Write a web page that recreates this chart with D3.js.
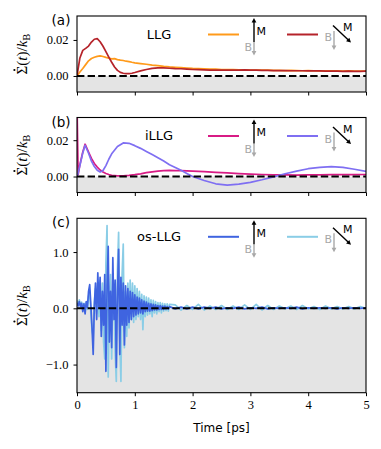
<!DOCTYPE html>
<meta charset="utf-8">
<style>
body { margin: 0; background: #fff; }
svg { display: block; }
.tick text { font-family: "Liberation Serif", serif; font-size: 12.5px; fill: #000; }
.tick line, .domain { stroke: #000; }
.sans { font-family: "DejaVu Sans", sans-serif; }
</style>
<svg width="381" height="449"></svg>
<script src="https://d3js.org/d3.v7.min.js"></script>
<script>

// panel (a): LLG
var timeA = [0, 0.05, 0.1, 0.15, 0.2, 0.25, 0.3, 0.35, 0.4, 0.45, 0.5, 0.55, 0.6, 0.65, 0.7, 0.75, 0.8, 0.85, 0.9, 0.95, 1.0,
  1.1, 1.2, 1.3, 1.4, 1.5, 1.6, 1.7, 1.8, 1.9, 2.0, 2.1, 2.2, 2.3, 2.4, 2.5, 2.6, 2.7, 2.8, 2.9, 3.0,
  3.1, 3.2, 3.3, 3.4, 3.5, 3.6, 3.7, 3.8, 3.9, 4.0, 4.1, 4.2, 4.3, 4.4, 4.5, 4.6, 4.7, 4.8, 4.9, 5.0];
var llgUp = [0.0, 0.0022, 0.0042, 0.0063, 0.0084, 0.0097, 0.0104, 0.0109, 0.0112, 0.0108, 0.0103, 0.0099, 0.0095, 0.0096, 0.0091, 0.0088, 0.0086, 0.0082, 0.0080, 0.0076, 0.0073,
  0.0069, 0.0065, 0.0060, 0.0057, 0.0053, 0.0050, 0.0048, 0.0046, 0.0044, 0.0042, 0.0041, 0.0040, 0.0038, 0.0038, 0.0036, 0.0036, 0.0035, 0.0034, 0.0034, 0.0033,
  0.0033, 0.0032, 0.0032, 0.0031, 0.0031, 0.0030, 0.0031, 0.0030, 0.0029, 0.0030, 0.0029, 0.0028, 0.0029, 0.0028, 0.0028, 0.0027, 0.0028, 0.0027, 0.0027, 0.0027];
var llgTilt = [0.0, 0.0100, 0.0142, 0.0153, 0.0166, 0.0188, 0.0204, 0.0207, 0.0190, 0.0165, 0.0135, 0.0105, 0.0076, 0.0050, 0.0031, 0.0020, 0.0015, 0.0013, 0.0013, 0.0015, 0.0019,
  0.0028, 0.0036, 0.0042, 0.0045, 0.0045, 0.0043, 0.0041, 0.0040, 0.0038, 0.0036, 0.0035, 0.0034, 0.0033, 0.0033, 0.0032, 0.0033, 0.0032, 0.0033, 0.0034, 0.0033,
  0.0032, 0.0031, 0.0031, 0.0030, 0.0030, 0.0030, 0.0029, 0.0029, 0.0029, 0.0028, 0.0028, 0.0028, 0.0027, 0.0027, 0.0027, 0.0026, 0.0027, 0.0026, 0.0026, 0.0027];

// panel (b): iLLG
var timeB = [0, 0.02, 0.05, 0.1, 0.14, 0.2, 0.25, 0.3, 0.35, 0.4, 0.45, 0.5, 0.55, 0.6, 0.7, 0.8, 0.9, 1.0,
  1.1, 1.2, 1.3, 1.4, 1.5, 1.6, 1.7, 1.8, 1.9, 2.0, 2.2, 2.4, 2.6, 2.8, 3.0, 3.2, 3.4, 3.6, 3.8, 4.0, 4.2, 4.4, 4.6, 4.8, 5.0];
var illgUp = [0.040, 0.001, 0.0065, 0.0135, 0.0178, 0.0135, 0.0100, 0.0072, 0.0052, 0.0036, 0.0025, 0.0017, 0.0011, 0.0007, 0.0004, 0.0004, 0.0006, 0.0010,
  0.0015, 0.0021, 0.0026, 0.0030, 0.0032, 0.0034, 0.0033, 0.0032, 0.0031, 0.0030, 0.0027, 0.0023, 0.0020, 0.0016, 0.0013, 0.0011, 0.0009, 0.0009, 0.0008, 0.0009, 0.0009, 0.0010, 0.0010, 0.0010, 0.0011];
var illgTilt = [0.0, 0.002, 0.006, 0.013, 0.0172, 0.0128, 0.0085, 0.0055, 0.0035, 0.0025, 0.0033, 0.0060, 0.0095, 0.0125, 0.0165, 0.0185, 0.0183, 0.0170,
  0.0155, 0.0138, 0.0121, 0.0103, 0.0085, 0.0065, 0.0050, 0.0034, 0.0017, 0.0000, -0.0022, -0.0040, -0.0047, -0.0042, -0.0032, -0.0018, -0.0002, 0.0015, 0.0030, 0.0043, 0.0050, 0.0055, 0.0050, 0.0040, 0.0028];

// panel (c): os-LLG
var timeC = [0, 0.02, 0.04, 0.06, 0.08, 0.1, 0.12, 0.14, 0.16, 0.18,
  0.2, 0.22, 0.24, 0.26, 0.28, 0.3, 0.32, 0.34, 0.36, 0.38,
  0.4, 0.42, 0.44, 0.46, 0.48, 0.5, 0.52, 0.54, 0.56, 0.58,
  0.6, 0.62, 0.64, 0.66, 0.68, 0.7, 0.72, 0.74, 0.76, 0.78,
  0.8, 0.82, 0.84, 0.86, 0.88, 0.9, 0.92, 0.94, 0.96, 0.98,
  1.0, 1.02, 1.04, 1.06, 1.08, 1.1, 1.12, 1.14, 1.16, 1.18,
  1.2, 1.22, 1.24, 1.26, 1.28, 1.3, 1.32, 1.34, 1.36, 1.38,
  1.4, 1.42, 1.44, 1.46, 1.48, 1.5, 1.52, 1.54, 1.56, 1.58, 1.6,
  1.7, 1.8, 1.9, 2.0, 2.1, 2.2, 2.3, 2.4, 2.5, 2.6,
  2.7, 2.8, 2.9, 3.0, 3.1, 3.2, 3.3, 3.4, 3.5, 3.6,
  3.7, 3.8, 3.9, 4.0, 4.1, 4.2, 4.3, 4.4, 4.5, 4.6,
  4.7, 4.8, 4.9, 5.0];
var osUp = [0.10, 0.04, 0.12, 0.03, 0.09, -0.06, 0.08, -0.10, 0.12, 0.02,
  0.30, 0.42, 0.05, -0.35, -0.82, 0.05, 0.45, -0.20, 0.63, 0.00,
  0.55, -0.50, 0.30, -0.30, 0.60, -1.12, 0.40, 1.10, -0.60, 0.30,
  -0.70, 0.90, -0.20, 0.50, -1.05, 0.30, 1.05, -0.82, 0.55, -0.30,
  0.45, -0.65, 0.40, -0.30, 0.35, -0.25, 0.30, -0.20, 0.28, -0.15,
  0.24, -0.12, 0.20, -0.10, 0.18, -0.08, 0.15, -0.10, 0.13, -0.06,
  0.11, -0.05, 0.09, -0.05, 0.08, -0.04, 0.07, -0.03, 0.06, -0.03,
  0.05, -0.02, 0.05, -0.02, 0.04, -0.02, 0.04, -0.01, 0.03, -0.01, 0.03,
  -0.01, 0.02, -0.01, 0.02, -0.01, 0.02, 0.00, 0.02, -0.01, 0.01,
  0.00, 0.02, -0.01, 0.01, 0.00, 0.02, -0.01, 0.01, 0.00, 0.01,
  0.00, 0.02, -0.01, 0.01, 0.00, 0.01, 0.00, 0.01, -0.01, 0.01,
  0.00, 0.01, 0.00, 0.01];
var osTilt = [0.14, 0.06, 0.15, 0.04, 0.11, 0.00, 0.09, -0.04, 0.10, -0.02,
  0.22, 0.30, -0.10, -0.40, -0.50, 0.10, 0.35, -0.10, 0.45, -0.15,
  0.50, -0.40, 0.45, -0.60, -0.90, 0.80, 1.47, -1.22, 0.20, 0.60,
  -0.90, 0.50, 0.20, -0.80, -1.30, 0.70, 1.35, -0.60, -1.30, 0.60,
  1.14, -0.70, 0.30, -0.50, 0.45, -0.35, 0.50, -0.20, 0.45, -0.25,
  0.40, -0.20, 0.35, -0.15, 0.30, -0.20, 0.25, -0.38, 0.22, -0.15,
  0.20, -0.12, 0.18, -0.10, 0.15, -0.15, 0.14, -0.08, 0.12, -0.10,
  0.10, -0.06, 0.10, -0.08, 0.09, -0.05, 0.08, -0.04, 0.08, -0.05, 0.07,
  0.06, -0.03, 0.05, -0.02, 0.07, -0.03, 0.04, -0.02, 0.05, -0.02,
  0.04, -0.02, 0.06, -0.02, 0.07, -0.03, 0.05, -0.02, 0.04, -0.01,
  0.04, -0.02, 0.05, -0.01, 0.03, -0.02, 0.04, -0.01, 0.03, -0.01,
  0.03, -0.01, 0.03, 0.00];

var xTicks = [0, 1, 2, 3, 4, 5];
var yTicksSmall = [0, 0.02];
var yTicksBig = [-1.0, 0.0, 1.0];

var svg = d3.select("svg"),
    left = 77, right = 366;

var x = d3.scaleLinear().domain([0, 5]).range([left, right]);

var panels = [
  {tag: "(a)", name: "LLG", top: 16, bottom: 92, domain: [-0.0089, 0.0333], ticks: yTicksSmall, fmt: d3.format(".2f"),
   time: timeA, series: [{v: llgUp, c: "#ff9a1a"}, {v: llgTilt, c: "#b5232a"}], order: [0, 1]},
  {tag: "(b)", name: "iLLG", top: 117.5, bottom: 192.5, domain: [-0.0088, 0.0325], ticks: yTicksSmall, fmt: d3.format(".2f"),
   time: timeB, series: [{v: illgUp, c: "#d81b85"}, {v: illgTilt, c: "#7f6ff2"}], order: [0, 1]},
  {tag: "(c)", name: "os-LLG", top: 218.3, bottom: 392.7, domain: [-1.5, 1.6], ticks: yTicksBig, fmt: d3.format(".1f"),
   time: timeC, series: [{v: osUp, c: "#3f64e0"}, {v: osTilt, c: "#8acde6"}], order: [1, 0]}
];

var grey = "#a8a8a8";

function arrow(g, x1, y1, x2, y2, color) {
  var a = Math.atan2(y2 - y1, x2 - x1), h = 4.5, w = 2.4;
  g.append("line").attr("x1", x1).attr("y1", y1)
      .attr("x2", x2 - Math.cos(a) * h * 0.8).attr("y2", y2 - Math.sin(a) * h * 0.8)
      .attr("stroke", color).attr("stroke-width", 1.4);
  var bx = x2 - Math.cos(a) * h, by = y2 - Math.sin(a) * h;
  g.append("path")
      .attr("d", "M" + x2 + "," + y2 +
        "L" + (bx - Math.sin(a) * w) + "," + (by + Math.cos(a) * w) +
        "L" + (bx + Math.sin(a) * w) + "," + (by - Math.cos(a) * w) + "Z")
      .attr("fill", color);
}

panels.forEach(function(p, i) {
  var y = d3.scaleLinear().domain(p.domain).range([p.bottom, p.top]);
  var g = svg.append("g");

  g.append("clipPath").attr("id", "clip" + i)
    .append("rect").attr("x", left).attr("y", p.top)
      .attr("width", right - left).attr("height", p.bottom - p.top);

  // shaded negative region
  g.append("rect")
      .attr("x", left).attr("y", y(0))
      .attr("width", right - left).attr("height", p.bottom - y(0))
      .attr("fill", "#e4e4e4");

  var line = d3.line()
      .x(function(d, j) { return x(p.time[j]); })
      .y(function(d) { return y(d); });

  var lines = g.append("g").attr("clip-path", "url(#clip" + i + ")");
  p.order.forEach(function(k) {
    lines.append("path")
        .attr("d", line(p.series[k].v))
        .attr("fill", "none")
        .attr("stroke", p.series[k].c)
        .attr("stroke-width", 1.7)
        .attr("stroke-linejoin", "round");
  });

  g.append("line")
      .attr("x1", left).attr("x2", right)
      .attr("y1", y(0)).attr("y2", y(0))
      .attr("stroke", "#000").attr("stroke-width", 2)
      .attr("stroke-dasharray", "7.4,3.2");

  // frame
  g.append("rect")
      .attr("x", left).attr("y", p.top)
      .attr("width", right - left).attr("height", p.bottom - p.top)
      .attr("fill", "none").attr("stroke", "#000").attr("stroke-width", 1.1);

  var yAxis = g.append("g")
      .attr("transform", "translate(" + left + ",0)")
      .call(d3.axisLeft(y).tickValues(p.ticks).tickFormat(p.fmt).tickSize(3.5).tickPadding(5));
  yAxis.select(".domain").remove();

  var xAxis = g.append("g")
      .attr("transform", "translate(0," + p.bottom + ")")
      .call(d3.axisBottom(x).tickValues(xTicks).tickSize(3.5).tickPadding(4)
        .tickFormat(i === 2 ? d3.format("d") : function() { return ""; }));
  xAxis.select(".domain").remove();

  g.append("text").attr("class", "sans")
      .attr("x", 61).attr("y", p.top + 9)
      .attr("text-anchor", "middle")
      .attr("font-size", 13.5)
      .text(p.tag);

  // y label, with a dot drawn over the sigma
  var cy = (p.top + p.bottom) / 2;
  var lg0 = g.append("g").attr("transform", "translate(27," + cy + ") rotate(-90)");
  var lab = lg0.append("text")
      .attr("text-anchor", "middle")
      .attr("font-family", "Liberation Serif, serif")
      .attr("font-size", 15);
  lab.append("tspan").text("\u03A3");
  lab.append("tspan").text("(");
  lab.append("tspan").attr("font-style", "italic").text("t");
  lab.append("tspan").text(")/");
  lab.append("tspan").attr("font-style", "italic").text("k");
  lab.append("tspan").attr("font-size", 10.5).attr("dy", 3).text("B");
  var total = lab.node().getComputedTextLength(),
      sw = lab.node().getSubStringLength(0, 1);
  lg0.append("circle")
      .attr("cx", -total / 2 + sw / 2).attr("cy", -12.6)
      .attr("r", 1.1).attr("fill", "#000");

  // legend
  var t = p.top;
  g.append("text").attr("class", "sans")
      .attr("x", 159).attr("y", t + 22.5)
      .attr("text-anchor", "middle").attr("font-size", 13)
      .text(p.name);
  g.append("line").attr("x1", 208).attr("x2", 239).attr("y1", t + 18.5).attr("y2", t + 18.5)
      .attr("stroke", p.series[0].c).attr("stroke-width", 2);
  g.append("line").attr("x1", 287).attr("x2", 318).attr("y1", t + 18.5).attr("y2", t + 18.5)
      .attr("stroke", p.series[1].c).attr("stroke-width", 2);

  var lg = g.append("g");
  arrow(lg, 254, t + 26, 254, t + 39.5, grey);
  arrow(lg, 254, t + 26, 254, t + 2, "#000");
  lg.append("text").attr("class", "sans").attr("x", 256.5).attr("y", t + 18.5)
      .attr("font-size", 11).text("M");
  lg.append("text").attr("class", "sans").attr("x", 244.5).attr("y", t + 35)
      .attr("font-size", 11).attr("fill", grey).text("B");

  arrow(lg, 334, t + 15, 334, t + 34, grey);
  arrow(lg, 333, t + 9.5, 351, t + 26.5, "#000");
  lg.append("text").attr("class", "sans").attr("x", 343).attr("y", t + 15)
      .attr("font-size", 11).text("M");
  lg.append("text").attr("class", "sans").attr("x", 324.5).attr("y", t + 25)
      .attr("font-size", 11).attr("fill", grey).text("B");
});

svg.append("text").attr("class", "sans")
    .attr("x", (left + right) / 2).attr("y", 432)
    .attr("text-anchor", "middle").attr("font-size", 12)
    .text("Time [ps]");

</script>
